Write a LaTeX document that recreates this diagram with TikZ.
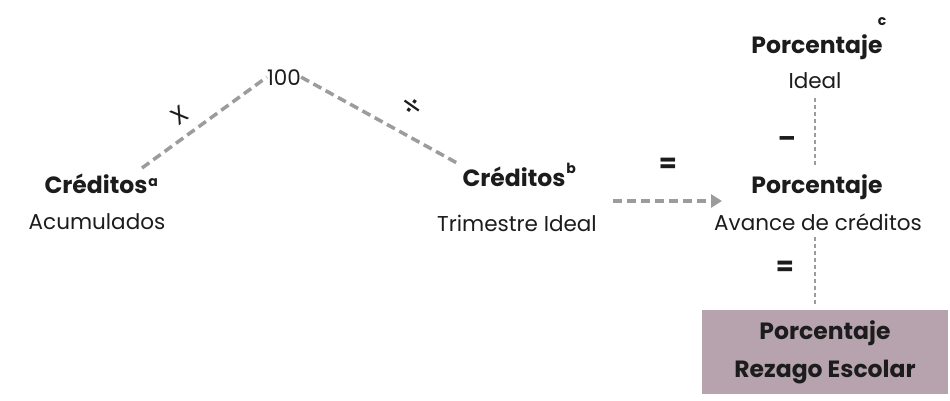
\documentclass[tikz,border=0pt]{standalone}
\usepackage{fontspec}
\setmainfont{Poppins}
\newfontfamily\symfont{DejaVu Sans}
\usetikzlibrary{arrows.meta}
\definecolor{ink}{HTML}{1C1C1C}
\definecolor{lgray}{HTML}{9C9C9C}
\definecolor{boxfill}{HTML}{B6A3AE}
\begin{document}
\begin{tikzpicture}[x=1pt,y=-1pt,
  lbl/.style={inner sep=0pt, anchor=base, text=ink, font=\fontsize{21.5}{26}\selectfont},
  ttl/.style={inner sep=0pt, anchor=base, text=ink, font=\fontsize{23.5}{28}\selectfont\bfseries},
  supr/.style={inner sep=0pt, anchor=base, text=ink, font=\fontsize{14}{14}\selectfont\bfseries},
  opsym/.style={inner sep=0pt, anchor=center, text=ink, font=\fontsize{26}{30}\selectfont\bfseries},
  thickdash/.style={draw=lgray, line width=3.5pt, dash pattern=on 9pt off 5pt},
  thindash/.style={draw=lgray, line width=1.3pt, dash pattern=on 4pt off 3pt}]
\useasboundingbox (0,0) rectangle (950,400);
\fill[white] (0,0) rectangle (950,400);

% Creditos acumulados
\node[ttl] (ca) at (96,193) {Créditos};
\node[supr, anchor=base west] (casup) at (ca.base east) [yshift=7pt, xshift=0.5pt] {a};
\node[lbl] (cas) at (97,229) {Acumulados};

% 100
\node[lbl] (h) at (284,85) {100};

% Creditos trimestre ideal
\node[ttl] (cb) at (514,186) {Créditos};
\node[supr, anchor=base west] (cbsup) at (cb.base east) [yshift=13pt, xshift=0.5pt] {b};
\node[lbl] (cbs) at (517,231) {Trimestre Ideal};

% Porcentaje ideal
\node[ttl] (pc) at (817,53) {Porcentaje};
\node[supr] (pcsup) at (882,25) {c};
\node[lbl] (ideal) at (815,88) {Ideal};

% Porcentaje avance
\node[ttl] (pa) at (817,193) {Porcentaje};
\node[lbl] (av) at (818,230) {Avance de créditos};

% Result box
\node[fill=boxfill, minimum width=246pt, minimum height=84pt, inner sep=0pt,
      align=center, text=ink, font=\fontsize{23.5}{38}\selectfont\bfseries] (rz) at (825,352)
      {Porcentaje\\Rezago Escolar};

% connectors
\coordinate (a1) at (142,168);
\coordinate (b1) at (457,163);
\draw[thickdash] (a1) -- (h.west);
\draw[thickdash] (h.east) -- (b1);
\node[opsym, font=\fontsize{24}{28}\selectfont, rotate=36] (times) at (180,115) {X};
\node[opsym, font=\fontsize{28}{32}\selectfont\symfont, rotate=-35] (divide) at (412,107) {÷};

\coordinate (arrS) at (613,201);
\coordinate (arrE) at (722,201);
\draw[thickdash, -{Triangle[length=11pt,width=13pt]}, arrows={[fill=lgray]}] (arrS) -- (arrE);
\node[opsym] (eq1) at (668,165) {=};

\draw[thindash, shorten <=10pt, shorten >=8pt] (ideal.south) -- (ideal.south |- pa.north);
\node[opsym] (minus) at (787,142) {–};
\draw[thindash, shorten <=7pt, shorten >=5pt] (ideal.south |- av.south) -- (ideal.south |- rz.north);
\node[opsym] (eq2) at (785,268) {=};
\end{tikzpicture}
\end{document}
